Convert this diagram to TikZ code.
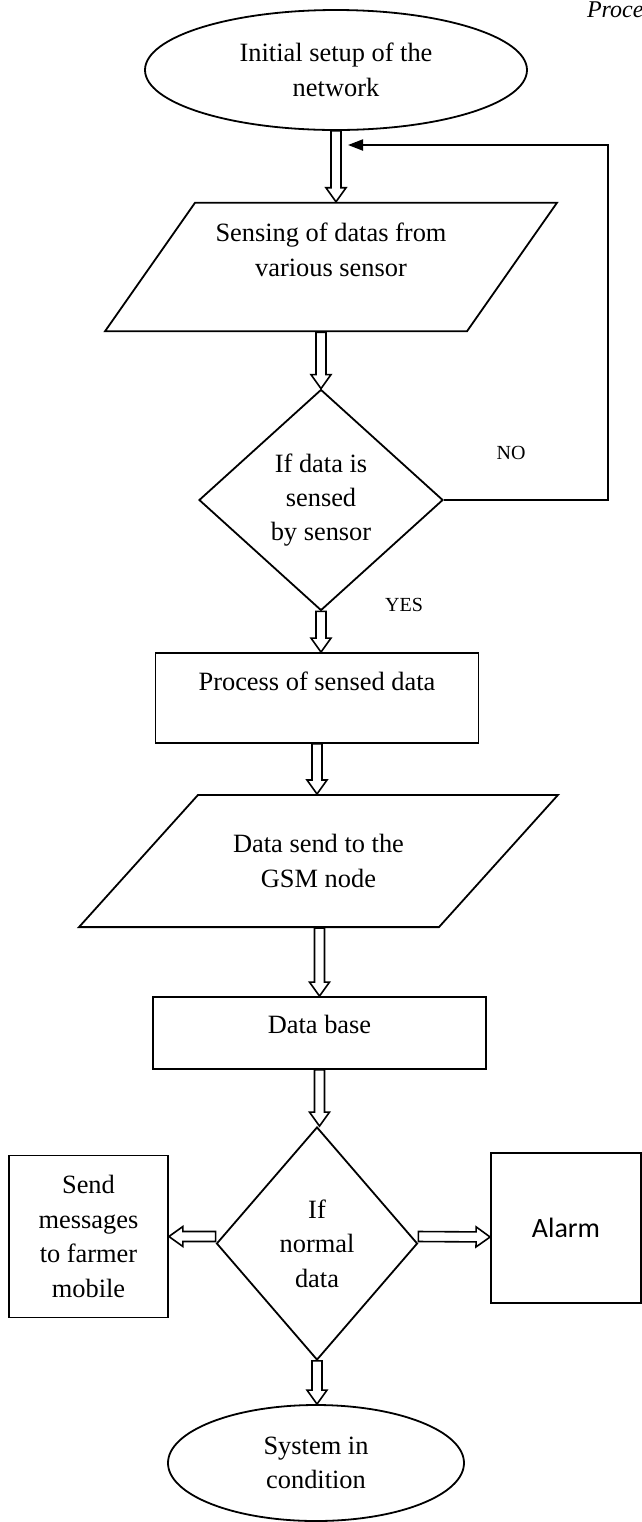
\documentclass[tikz,border=0pt]{standalone}
\usepackage{fontspec}
\setmainfont{Liberation Serif}
\newfontfamily\alarmfont{Carlito}
\usepackage{tikz}
\usetikzlibrary{arrows.meta,calc,shapes.geometric}
\tikzset{
  blk/.style={draw, line width=0.9pt, align=center, inner sep=0pt,
              font=\fontsize{13.2}{17.2}\selectfont},
  terminal/.style={blk, ellipse},
  io/.style={blk, trapezium, trapezium stretches body=true},
  decision/.style={blk, diamond},
  proc/.style={blk, rectangle},
  hollow/.style={draw, line width=0.8pt, to path={
      let \p1=(\tikztostart), \p2=(\tikztotarget), \p3=($(\p2)!7pt!(\p1)$) in
      ($(\p1)!2.5pt!90:(\p2)$) -- ($(\p3)!2.5pt!-90:(\p1)$) -- ($(\p3)!5pt!-90:(\p1)$)
      -- (\p2) -- ($(\p3)!5pt!90:(\p1)$) -- ($(\p3)!2.5pt!90:(\p1)$)
      -- ($(\p1)!2.5pt!-90:(\p2)$) -- cycle}},
  loopline/.style={line width=1pt, -{Triangle[length=7.5pt,width=5.5pt]}},
  lbl/.style={font=\fontsize{10}{12}\selectfont},
}
\begin{document}
\begin{tikzpicture}[x=0.5pt, y=-0.5pt]
  \path[fill=white, use as bounding box] (0,0) rectangle (642,1522);
  \node[anchor=base west, font=\fontsize{12}{14}\selectfont\itshape] (hdr) at (580,17) {Proce};
  \node[terminal, minimum width=191pt, minimum height=60pt] (start) at (336,70) {Initial setup of the\\network};
  \node[io, trapezium left angle=55, trapezium right angle=125, inner ysep=10.3pt,
        minimum width=226pt, minimum height=64pt] (sense) at (331,267) {Sensing of datas from\\various sensor\\~};
  \node[decision, minimum width=122pt, minimum height=110.5pt] (test) at (321,500) {If data is\\sensed\\by sensor};
  \node[proc, minimum width=161.5pt, minimum height=45pt] (process) at (317,698) {Process of sensed data\\~};
  \node[io, trapezium left angle=48, trapezium right angle=132, inner ysep=19.8pt,
        minimum width=239.5pt, minimum height=66pt] (gsm) at (318.5,861) {Data send to the\\GSM node};
  \node[proc, minimum width=166.5pt, minimum height=36pt, text depth=9pt] (db) at (319.5,1033) {Data base};
  \node[decision, minimum width=100.5pt, minimum height=116.5pt] (normal) at (317,1243.5) {If\\normal\\data};
  \node[proc, minimum width=79.5pt, minimum height=81pt] (msg) at (88.5,1236.5) {Send\\messages\\to farmer\\mobile};
  \node[proc, minimum width=75pt, minimum height=75pt,
        font=\alarmfont\fontsize{14}{17}\selectfont] (alarm) at (566,1228) {Alarm};
  \node[terminal, minimum width=148pt, minimum height=58pt] (stop) at (316,1463) {System in\\condition};
  \node[lbl] (no) at (511,453) {NO};
  \node[lbl] (yes) at (404,605) {YES};
  \coordinate (back) at (348,145);

  \draw[hollow] (start.south) to (start.south |- sense.north);
  \draw[hollow] (sense.south -| test.north) to (test.north);
  \draw[hollow] (test.south) to (test.south |- process.north);
  \draw[hollow] (process.south) to (process.south |- gsm.north);
  \draw[hollow] (gsm.south -| db.north) to (db.north);
  \draw[hollow] (db.south) to (db.south |- normal.north);
  \draw[hollow] ([yshift=3.5pt]normal.west) to (msg.east);
  \draw[hollow] ([yshift=3.5pt]normal.east) to ([yshift=-4.5pt]alarm.west);
  \draw[hollow] (normal.south) to (normal.south |- stop.north);
  \draw[loopline] (test.east) -- ++(164,0) |- (back);
\end{tikzpicture}
\end{document}
